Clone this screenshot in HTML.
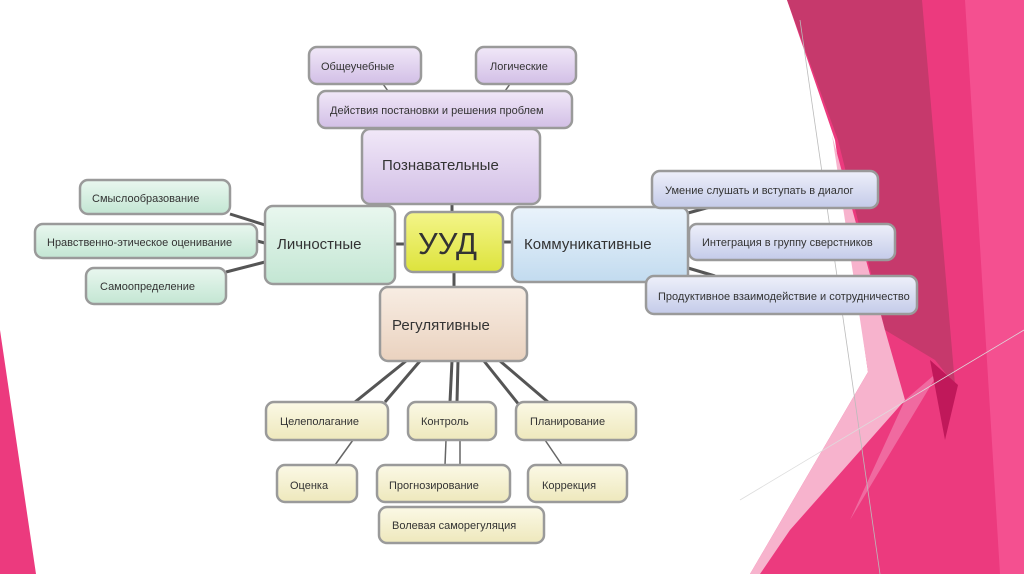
<!DOCTYPE html>
<html><head><meta charset="utf-8"><style>
html,body{margin:0;padding:0;background:#fff;width:1024px;height:574px;overflow:hidden}
svg{display:block}
text{font-family:"Liberation Sans",sans-serif;fill:#333}
</style></head><body>
<svg width="1024" height="574" viewBox="0 0 1024 574" xmlns="http://www.w3.org/2000/svg">
<defs>
<linearGradient id="gp" x1="0" y1="0" x2="0" y2="1"><stop offset="0" stop-color="#f1e8f8"/><stop offset="1" stop-color="#d2bfe6"/></linearGradient>
<linearGradient id="gg" x1="0" y1="0" x2="0" y2="1"><stop offset="0" stop-color="#e9f7ef"/><stop offset="1" stop-color="#c3e6d3"/></linearGradient>
<linearGradient id="gb" x1="0" y1="0" x2="0" y2="1"><stop offset="0" stop-color="#eaf3fb"/><stop offset="1" stop-color="#c2dbef"/></linearGradient>
<linearGradient id="gb2" x1="0" y1="0" x2="0" y2="1"><stop offset="0" stop-color="#eef0fa"/><stop offset="1" stop-color="#c4cbe9"/></linearGradient>
<linearGradient id="go" x1="0" y1="0" x2="0" y2="1"><stop offset="0" stop-color="#f8ede3"/><stop offset="1" stop-color="#ead2bf"/></linearGradient>
<linearGradient id="gy" x1="0" y1="0" x2="0" y2="1"><stop offset="0" stop-color="#f4f58a"/><stop offset="1" stop-color="#dde33c"/></linearGradient>
<linearGradient id="gl" x1="0" y1="0" x2="0" y2="1"><stop offset="0" stop-color="#fbf9e6"/><stop offset="1" stop-color="#eee8bc"/></linearGradient>
</defs>
<!-- background decoration -->
<polygon points="787,0 1024,0 1024,574 750,574 868,372 835,140" fill="#ec3a7e"/>
<polygon points="965,0 1024,0 1024,574 1000,574" fill="#f45090"/>
<polygon points="832,135 885,330 905,400 790,530 760,574 750,574 868,372" fill="#f7b3cd"/>
<polygon points="905,400 940,370 850,520" fill="#f06aa0"/>
<polygon points="787,0 922,0 955,385 935,360 885,330 838,140" fill="#c6396c"/>
<polygon points="930,360 958,385 945,440" fill="#c0185a"/>
<line x1="800" y1="20" x2="880" y2="574" stroke="#bbb" stroke-width="0.8"/>
<line x1="740" y1="500" x2="1024" y2="330" stroke="#ddd" stroke-width="0.8"/>
<polygon points="0,330 36,574 0,574" fill="#ec3a7e"/>
<!-- connectors -->
<g stroke="#555" stroke-width="3" fill="none">
<line x1="452" y1="204" x2="452" y2="212"/>
<line x1="395" y1="244" x2="405" y2="244"/>
<line x1="503" y1="242" x2="512" y2="242"/>
<line x1="454" y1="272" x2="454" y2="287"/>
<line x1="230" y1="214" x2="265" y2="225"/>
<line x1="257" y1="241" x2="265" y2="243"/>
<line x1="226" y1="272" x2="265" y2="262"/>
<line x1="688" y1="213" x2="710" y2="207"/>
<line x1="688" y1="242" x2="689" y2="242"/>
<line x1="688" y1="268" x2="715" y2="276"/>
<line x1="406" y1="361" x2="355" y2="402"/>
<line x1="420" y1="361" x2="385" y2="402"/>
<line x1="452" y1="361" x2="450" y2="402"/>
<line x1="458" y1="361" x2="457" y2="402"/>
<line x1="484" y1="361" x2="520" y2="406"/>
<line x1="500" y1="361" x2="548" y2="402"/>
</g>
<g stroke="#666" stroke-width="1.5">
<line x1="353" y1="440" x2="335" y2="465"/>
<line x1="446" y1="440" x2="445" y2="465"/>
<line x1="460" y1="440" x2="460" y2="465"/>
<line x1="545" y1="440" x2="562" y2="465"/>
<line x1="383" y1="84" x2="388" y2="91"/>
<line x1="510" y1="84" x2="505" y2="91"/>
</g>
<!-- nodes -->
<g stroke="#9a9a9a" stroke-width="2.5">
<rect x="309" y="47" width="112" height="37" rx="8" fill="url(#gp)"/>
<rect x="476" y="47" width="100" height="37" rx="8" fill="url(#gp)"/>
<rect x="318" y="91" width="254" height="37" rx="8" fill="url(#gp)"/>
<rect x="362" y="129" width="178" height="75" rx="8" fill="url(#gp)"/>
<rect x="265" y="206" width="130" height="78" rx="8" fill="url(#gg)"/>
<rect x="512" y="207" width="176" height="75" rx="8" fill="url(#gb)"/>
<rect x="405" y="212" width="98" height="60" rx="8" fill="url(#gy)"/>
<rect x="380" y="287" width="147" height="74" rx="8" fill="url(#go)"/>
<rect x="80" y="180" width="150" height="34" rx="8" fill="url(#gg)"/>
<rect x="35" y="224" width="222" height="34" rx="8" fill="url(#gg)"/>
<rect x="86" y="268" width="140" height="36" rx="8" fill="url(#gg)"/>
<rect x="652" y="171" width="226" height="37" rx="8" fill="url(#gb2)"/>
<rect x="689" y="224" width="206" height="36" rx="8" fill="url(#gb2)"/>
<rect x="646" y="276" width="271" height="38" rx="8" fill="url(#gb2)"/>
<rect x="266" y="402" width="122" height="38" rx="8" fill="url(#gl)"/>
<rect x="408" y="402" width="88" height="38" rx="8" fill="url(#gl)"/>
<rect x="516" y="402" width="120" height="38" rx="8" fill="url(#gl)"/>
<rect x="277" y="465" width="80" height="37" rx="8" fill="url(#gl)"/>
<rect x="377" y="465" width="133" height="37" rx="8" fill="url(#gl)"/>
<rect x="528" y="465" width="99" height="37" rx="8" fill="url(#gl)"/>
<rect x="379" y="507" width="165" height="36" rx="8" fill="url(#gl)"/>
</g>
<!-- labels -->
<g font-size="11">
<text x="321" y="70">Общеучебные</text>
<text x="490" y="70">Логические</text>
<text x="330" y="114">Действия постановки и решения проблем</text>
<text x="92" y="202">Смыслообразование</text>
<text x="47" y="246">Нравственно-этическое оценивание</text>
<text x="100" y="290">Самоопределение</text>
<text x="665" y="194">Умение слушать и вступать в диалог</text>
<text x="702" y="246">Интеграция в группу сверстников</text>
<text x="658" y="300">Продуктивное взаимодействие и сотрудничество</text>
<text x="280" y="425">Целеполагание</text>
<text x="421" y="425">Контроль</text>
<text x="530" y="425">Планирование</text>
<text x="290" y="489">Оценка</text>
<text x="389" y="489">Прогнозирование</text>
<text x="542" y="489">Коррекция</text>
<text x="392" y="529">Волевая саморегуляция</text>
</g>
<g font-size="15">
<text x="382" y="170">Познавательные</text>
<text x="277" y="249">Личностные</text>
<text x="524" y="249">Коммуникативные</text>
<text x="392" y="330">Регулятивные</text>
</g>
<text x="418" y="254" font-size="31">УУД</text>
</svg>
</body></html>
